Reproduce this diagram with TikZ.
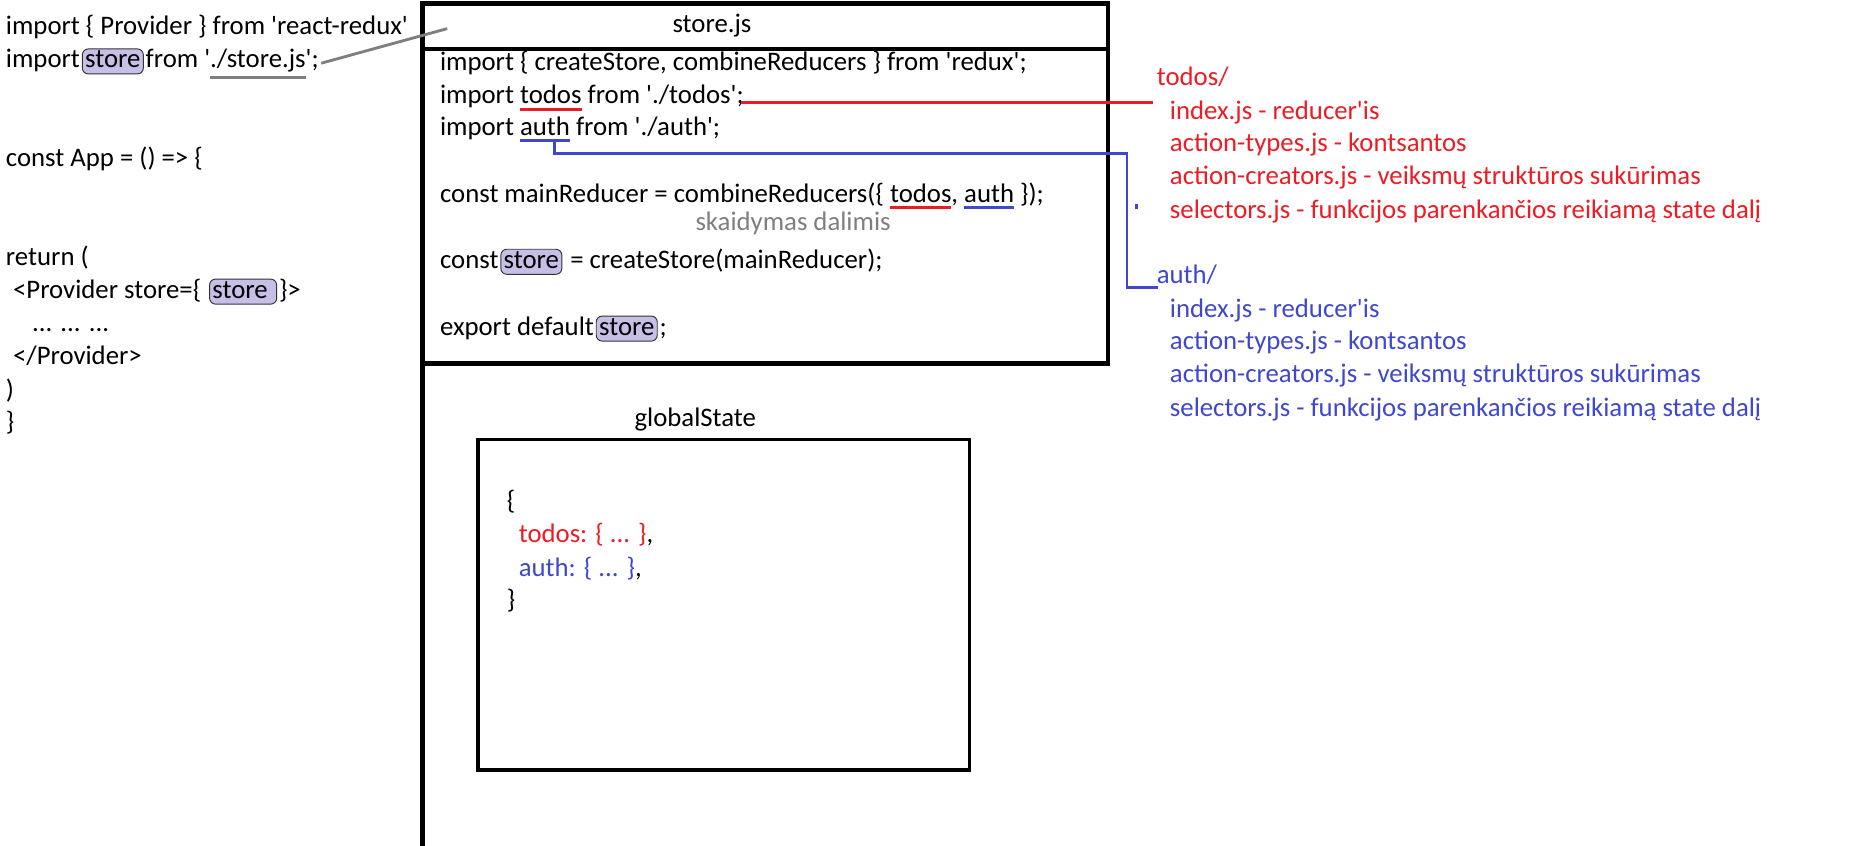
\documentclass[tikz,border=0pt]{standalone}
\usepackage{fontspec}
\newfontfamily\codefont{Carlito}
\usepackage{xcolor}
\usetikzlibrary{positioning, calc}

\definecolor{todored}{HTML}{ED1C24}
\definecolor{authblue}{HTML}{3F48CC}
\definecolor{hlfill}{HTML}{C8BFE7}
\definecolor{pathgray}{HTML}{7F7F7F}

\tikzset{
  code/.style = {anchor=base west, inner sep=0pt, outer sep=0pt,
    font=\codefont\fontsize{11.22}{13.85}\selectfont},
  follow/.style = {code, at={(#1.base east)}},
  hlbox/.style = {draw=black!80, line width=0.4pt, fill=hlfill,
    rounded corners=2.5pt, inner xsep=1.2pt, inner ysep=0.4pt,
    outer xsep=1pt, text height=7.6pt, text depth=2.1pt},
  frame/.style = {line width=2pt},
  todoline/.style = {todored, line width=1.2pt},
  authline/.style = {authblue, line width=1.2pt},
  storeline/.style = {pathgray, line width=1.2pt}
}

\begin{document}
\begin{tikzpicture}[x=0.5pt, y=-0.5pt]
  \useasboundingbox (0,0) rectangle (1568,709);

  % App.js
  \node[code] (prov) at (5,29) {import \{ Provider \} from 'react-redux'};
  \node[code] (impA) at (5,57) {import};
  \node[follow=impA, hlbox] (impStore) {store};
  \node[follow=impStore] (impB) {from '};
  \node[follow=impB] (impPath) {./store.js};
  \node[follow=impPath] (impE) {';};
  \node[code] (app) at (5,140) {const App = () => \{};
  \node[code] (ret) at (5,223) {return (};
  \node[code] (provA) at (11,250) {<Provider store=\{\ \null};
  \node[follow=provA, hlbox] (provStore) {store\ \null};
  \node[follow=provStore] (provB) {\}>};
  \node[code] (dots) at (27,278) {... ... ...};
  \node[code] (provEnd) at (11,306) {</Provider>};
  \node[code] (retEnd) at (5,334) {)};
  \node[code] (appEnd) at (5,361) {\}};

  % store.js
  \draw[frame] (354,3) rectangle (929,305);
  \draw[frame] (354,41) -- (929,41);
  \draw[frame] (354,3) -- (354,709);
  \node[code, anchor=base] (storeTitle) at (597,27) {store.js};
  \coordinate (hdrPt) at (375,24);

  \node[code] (rdx) at (369,59) {import \{ createStore, combineReducers \} from 'redux';};
  \node[code] (tdA) at (369,87) {import\ \null};
  \node[follow=tdA] (tdWord) {todos};
  \node[follow=tdWord] (tdC) {\ from './todos';};
  \node[code] (auA) at (369,114) {import\ \null};
  \node[follow=auA] (auWord) {auth};
  \node[follow=auWord] (auC) {\ from './auth';};
  \node[code] (mrA) at (369,170) {const mainReducer = combineReducers(\{\ \null};
  \node[follow=mrA] (mrTodos) {todos};
  \node[follow=mrTodos] (mrB) {,\ \null};
  \node[follow=mrB] (mrAuth) {auth};
  \node[follow=mrAuth] (mrC) {\ \});};
  \node[code, anchor=base, text=pathgray] (split) at (665,193) {skaidymas dalimis};
  \node[code] (csA) at (369,225) {const};
  \node[follow=csA, hlbox] (csStore) {store};
  \node[follow=csStore] (csB) {\ = createStore(mainReducer);};
  \node[code] (exA) at (369,281) {export default};
  \node[follow=exA, hlbox] (exStore) {store};
  \node[follow=exStore] (exB) {;};

  % folders
  \node[code, text=todored] (todosDir) at (970,72) {todos/};
  \node[code, text=todored] (tdIndex) at (981,100) {index.js - reducer'is};
  \node[code, text=todored] (tdTypes) at (981,127) {action-types.js - kontsantos};
  \node[code, text=todored] (tdCreators) at (981,155) {action-creators.js - veiksmų struktūros sukūrimas};
  \node[code, text=todored] (tdSelectors) at (981,183) {selectors.js - funkcijos parenkančios reikiamą state dalį};
  \node[code, text=authblue] (authDir) at (970,238) {auth/};
  \node[code, text=authblue] (auIndex) at (981,266) {index.js - reducer'is};
  \node[code, text=authblue] (auTypes) at (981,293) {action-types.js - kontsantos};
  \node[code, text=authblue] (auCreators) at (981,321) {action-creators.js - veiksmų struktūros sukūrimas};
  \node[code, text=authblue] (auSelectors) at (981,349) {selectors.js - funkcijos parenkančios reikiamą state dalį};

  % globalState
  \node[code, anchor=base] (gsLabel) at (583,358) {globalState};
  \node[draw, line width=1.5pt, inner sep=0pt, minimum width=206pt,
    minimum height=138.5pt] (gsBox) at (607,507) {};
  \node[code] (gsOpen) at (425,427) {\{};
  \node[code, text=todored] (gsTodos) at (435,455) {todos: \{ ... \}};
  \node[follow=gsTodos] (gsTodosC) {,};
  \node[code, text=authblue] (gsAuth) at (435,483) {auth: \{ ... \}};
  \node[follow=gsAuth] (gsAuthC) {,};
  \node[code] (gsClose) at (425,510) {\}};

  % underlines and links
  \draw[storeline] ($(impPath.base west)+(0,8)$) -- ($(impPath.base east)+(0,8)$);
  \draw[storeline] ($(impE.base east)+(2,-4)$) -- (hdrPt);
  \draw[todoline] ($(tdWord.base west)+(0,5)$) -- ($(tdWord.base east)+(0,5)$);
  \draw[todoline] ($(mrTodos.base west)+(0,4)$) -- ($(mrTodos.base east)+(0,4)$);
  \draw[todoline] ($(tdC.base east)+(-2,-1)$) -- ($(todosDir.base west)+(-3,14)$);
  \draw[authline] ($(auWord.base west)+(0,4)$) -- ($(auWord.base east)+(0,4)$);
  \draw[authline] ($(mrAuth.base west)+(0,4)$) -- ($(mrAuth.base east)+(0,4)$);
  \draw[authline] ($(auWord.base east)+(-13,4)$) -- ++(0,11)
    -| ($(authDir.base west)+(-25,3)$) -- ($(authDir.base west)+(1,3)$);
  \fill[authblue] (952,171) rectangle (954,175);
\end{tikzpicture}
\end{document}
